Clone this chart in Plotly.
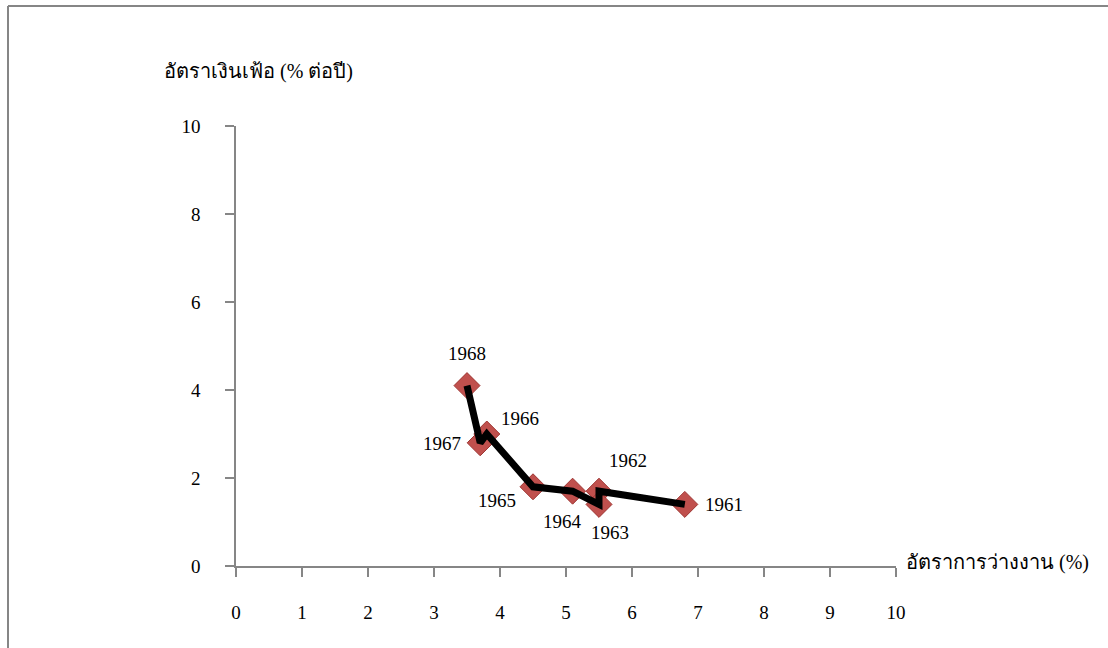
import plotly.graph_objects as go

years = ["1961", "1962", "1963", "1964", "1965", "1966", "1967", "1968"]
unemployment = [6.8, 5.5, 5.5, 5.1, 4.5, 3.8, 3.7, 3.5]
inflation = [1.4, 1.7, 1.4, 1.7, 1.8, 3.0, 2.8, 4.1]
ticks = [0, 1, 2, 3, 4, 5, 6, 7, 8, 9, 10]
y_ticks = [0, 2, 4, 6, 8, 10]
x_title = "อัตราการว่างงาน (%)"
y_title = "อัตราเงินเฟ้อ (% ต่อปี)"

# label offsets in pixels (style, not data)
label_dx = [39, 29, 11, -10, -36, 33, -38, 0]
label_dy = [0, 31, -28, -30, -14, 16, -1, 32]

serif = "Liberation Serif, Times New Roman, serif"

fig = go.Figure()
fig.add_trace(go.Scatter(
    x=unemployment, y=inflation, mode="markers",
    marker=dict(symbol="diamond", size=20, color="#C0504D",
                line=dict(color="#9E3532", width=1)),
    cliponaxis=False, showlegend=False, hoverinfo="skip"))
fig.add_trace(go.Scatter(
    x=unemployment, y=inflation, mode="lines",
    line=dict(color="#000000", width=7),
    cliponaxis=False, showlegend=False, hoverinfo="skip"))

for yr, xv, yv, dx, dy in zip(years, unemployment, inflation, label_dx, label_dy):
    fig.add_annotation(x=xv, y=yv, text=yr, showarrow=False,
                       xshift=dx, yshift=dy, xanchor="center", yanchor="middle",
                       font=dict(family=serif, size=19, color="#000000"))

axis_common = dict(
    showgrid=False, zeroline=False, showline=True, linecolor="#868686",
    linewidth=1.5, ticks="outside", ticklen=9, tickcolor="#868686", tickwidth=1.5,
    tickfont=dict(family=serif, size=19, color="#000000"),
    range=[0, 10], fixedrange=True)

fig.update_xaxes(tickvals=ticks, ticktext=[str(t) for t in ticks],
                 ticklabelstandoff=19, **axis_common)
fig.update_yaxes(tickvals=y_ticks, ticktext=[str(t) for t in y_ticks],
                 ticklabelstandoff=21, **axis_common)

fig.add_annotation(text=x_title, xref="paper", yref="paper", x=1.012, y=0.008,
                   xanchor="left", yanchor="middle", showarrow=False,
                   font=dict(family=serif, size=20, color="#000000"))
fig.add_annotation(text=y_title, xref="paper", yref="paper", x=-0.112,
                   y=(566 - 72) / 440,
                   xanchor="left", yanchor="middle", showarrow=False,
                   font=dict(family=serif, size=20, color="#000000"))

# outer frame (top and left edges visible)
fig.add_shape(type="line", xref="paper", yref="paper",
              x0=(8 - 236) / 660, x1=(1108 - 236) / 660,
              y0=(566 - 6) / 440, y1=(566 - 6) / 440,
              line=dict(color="#868686", width=2))
fig.add_shape(type="line", xref="paper", yref="paper",
              x0=(8 - 236) / 660, x1=(8 - 236) / 660,
              y0=(566 - 6) / 440, y1=(566 - 660) / 440,
              line=dict(color="#868686", width=2))

fig.update_layout(
    width=1108, height=648,
    margin=dict(l=236, r=212, t=126, b=82),
    paper_bgcolor="#FFFFFF", plot_bgcolor="#FFFFFF",
)

fig.write_html("out.html", config={"displayModeBar": False})
